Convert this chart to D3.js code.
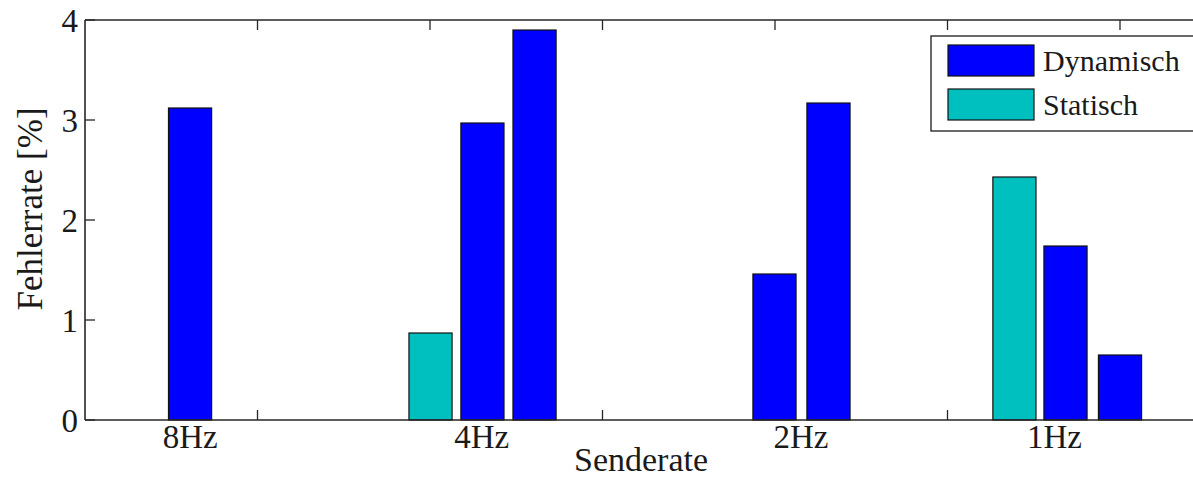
<!DOCTYPE html>
<html>
<head>
<meta charset="utf-8">
<script src="https://d3js.org/d3.v7.min.js"></script>
<style>
body { margin: 0; background: #fff; }
text { font-family: "Liberation Serif", "DejaVu Serif", serif; fill: #1a1a1a; }
</style>
</head>
<body>
<svg id="chart" width="1193" height="479"></svg>
<script>
// categories and where their labels sit on the x axis
var categories = ["8Hz", "4Hz", "2Hz", "1Hz"];
var labelPos = [0.61, 2.30, 4.15, 5.62];

// Dynamisch bars (x position, Fehlerrate in %)
var dynPos = [0.609, 2.304, 2.606, 3.997, 4.310, 5.684, 6.0];
var dynVal = [3.12, 2.97, 3.90, 1.46, 3.17, 1.74, 0.65];

// Statisch bars
var statPos = [2.003, 5.388];
var statVal = [0.87, 2.43];

var yTicks = [0, 1, 2, 3, 4];
var xTicks = [1, 2, 3, 4, 5, 6];

var svg = d3.select("#chart");

var x = d3.scaleLinear().domain([0, 7]).range([85, 85 + 7 * 172.5]);
var y = d3.scaleLinear().domain([0, 4]).range([420, 20]);
var bw = x(0.25) - x(0);

// bars
function drawBars(pos, val, color) {
  svg.append("g").selectAll("rect")
    .data(pos.map(function(p, i) { return { p: p, v: val[i] }; }))
    .enter().append("rect")
      .attr("x", function(d) { return x(d.p) - bw / 2; })
      .attr("y", function(d) { return y(d.v); })
      .attr("width", bw)
      .attr("height", function(d) { return y(0) - y(d.v); })
      .attr("fill", color)
      .attr("stroke", "#111")
      .attr("stroke-width", 1.2);
}
drawBars(dynPos, dynVal, "#0000ff");
drawBars(statPos, statVal, "#00bfbf");

// frame
var axisColor = "#262626";
svg.append("line").attr("x1", x(0)).attr("x2", x(7)).attr("y1", y(0)).attr("y2", y(0))
  .attr("stroke", axisColor).attr("stroke-width", 1.6);
svg.append("line").attr("x1", x(0)).attr("x2", x(7)).attr("y1", y(4)).attr("y2", y(4))
  .attr("stroke", axisColor).attr("stroke-width", 1.6);
svg.append("line").attr("x1", x(0)).attr("x2", x(0)).attr("y1", y(0)).attr("y2", y(4))
  .attr("stroke", axisColor).attr("stroke-width", 1.6);

// x ticks (inward, top and bottom)
xTicks.forEach(function(t) {
  svg.append("line").attr("x1", x(t)).attr("x2", x(t)).attr("y1", y(4)).attr("y2", y(4) + 10)
    .attr("stroke", axisColor).attr("stroke-width", 1.3);
});
// bottom ticks go under the bars
svg.insert("g", ":first-child").selectAll("line")
  .data(xTicks).enter().append("line")
    .attr("x1", function(d) { return x(d); }).attr("x2", function(d) { return x(d); })
    .attr("y1", y(0)).attr("y2", y(0) - 10)
    .attr("stroke", axisColor).attr("stroke-width", 1.3);

// y ticks + labels
yTicks.forEach(function(t) {
  svg.append("line").attr("x1", x(0)).attr("x2", x(0) + 10).attr("y1", y(t)).attr("y2", y(t))
    .attr("stroke", axisColor).attr("stroke-width", 1.3);
  svg.append("text").attr("x", 78).attr("y", y(t) + 12)
    .attr("text-anchor", "end").attr("font-size", 33).text(t);
});

// category labels
categories.forEach(function(c, i) {
  svg.append("text").attr("x", x(labelPos[i])).attr("y", 448)
    .attr("text-anchor", "middle").attr("font-size", 33).text(c);
});

// axis titles
svg.append("text").attr("x", 641).attr("y", 471)
  .attr("text-anchor", "middle").attr("font-size", 34).text("Senderate");
svg.append("text").attr("transform", "translate(42,209) rotate(-90)")
  .attr("text-anchor", "middle").attr("font-size", 35).text("Fehlerrate [%]");

// legend
var legend = svg.append("g");
legend.append("rect").attr("x", 931).attr("y", 36).attr("width", 300).attr("height", 95)
  .attr("fill", "#fff").attr("stroke", "#1a1a1a").attr("stroke-width", 1.3);
var legendItems = [
  { name: "Dynamisch", color: "#0000ff" },
  { name: "Statisch", color: "#00bfbf" }
];
legendItems.forEach(function(d, i) {
  var yy = 45 + i * 44;
  legend.append("rect").attr("x", 948).attr("y", yy).attr("width", 86).attr("height", 31)
    .attr("fill", d.color).attr("stroke", "#111").attr("stroke-width", 1.2);
  legend.append("text").attr("x", 1043).attr("y", yy + 26)
    .attr("font-size", 30).text(d.name);
});
</script>
</body>
</html>
